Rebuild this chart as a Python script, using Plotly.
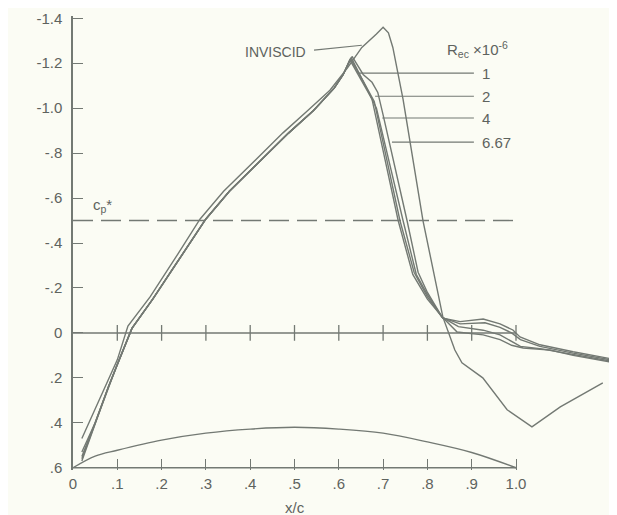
import plotly.graph_objects as go

# ---------------- data ----------------
x_ticks = [0, 0.1, 0.2, 0.3, 0.4, 0.5, 0.6, 0.7, 0.8, 0.9, 1.0]
x_ticktext = ["0", ".1", ".2", ".3", ".4", ".5", ".6", ".7", ".8", ".9", "1.0"]
y_ticks = [-1.4, -1.2, -1.0, -0.8, -0.6, -0.4, -0.2, 0, 0.2, 0.4, 0.6]
y_ticktext = ["-1.4", "-1.2", "-1.0", "-.8", "-.6", "-.4", "-.2", "0", ".2", ".4", ".6"]

cp_star = -0.50

inviscid_x = [0.02, 0.05, 0.08, 0.10, 0.124, 0.174, 0.23, 0.287, 0.34, 0.40, 0.474, 0.53,
              0.58, 0.62, 0.652, 0.685, 0.70, 0.712, 0.722, 0.745, 0.79, 0.835, 0.862,
              0.878, 0.925, 0.98, 1.036, 1.10, 1.196]
inviscid_cp = [0.47, 0.34, 0.21, 0.12, -0.03, -0.16, -0.33, -0.507, -0.63, -0.745, -0.89, -0.99,
               -1.08, -1.18, -1.27, -1.33, -1.36, -1.335, -1.27, -1.04, -0.50, -0.07, 0.076,
               0.133, 0.20, 0.342, 0.418, 0.329, 0.222]

rise_x = [0.02, 0.05, 0.08, 0.10, 0.133, 0.18, 0.23, 0.30, 0.353, 0.413, 0.487, 0.543, 0.59, 0.61]
rise_cp = [0.55, 0.40, 0.24, 0.14, -0.02, -0.15, -0.30, -0.507, -0.63, -0.745, -0.89, -0.99, -1.09, -1.15]

re1_x = rise_x + [0.63, 0.655, 0.675, 0.688, 0.70, 0.754, 0.779, 0.80, 0.835,
                  0.874, 0.926, 0.964, 0.993, 1.009, 1.054, 1.129, 1.228]
re1_cp = [0.53] + rise_cp[1:] + [-1.23, -1.15, -1.115, -1.07, -0.97, -0.50, -0.27, -0.18, -0.065,
                                 -0.05, -0.062, -0.04, -0.013, 0.018, 0.053, 0.084, 0.12]

re2_x = rise_x + [0.628, 0.66, 0.685, 0.745, 0.775, 0.80, 0.834,
                  0.874, 0.93, 0.964, 0.99, 1.01, 1.054, 1.129, 1.228]
re2_cp = [0.55] + rise_cp[1:] + [-1.225, -1.10, -1.0, -0.50, -0.26, -0.17, -0.068,
                                 -0.04, -0.045, -0.025, 0.0, 0.03, 0.06, 0.09, 0.125]

re4_x = rise_x + [0.626, 0.655, 0.68, 0.738, 0.77, 0.80, 0.833,
                  0.87, 0.926, 0.964, 0.99, 1.01, 1.054, 1.129, 1.228]
re4_cp = [0.56] + rise_cp[1:] + [-1.22, -1.12, -1.03, -0.50, -0.27, -0.16, -0.07,
                                 -0.028, -0.012, 0.009, 0.04, 0.06, 0.07, 0.095, 0.13]

re667_x = rise_x + [0.625, 0.652, 0.675, 0.734, 0.767, 0.80, 0.833,
                    0.867, 0.926, 0.964, 0.99, 1.016, 1.077, 1.129, 1.228]
re667_cp = [0.57] + rise_cp[1:] + [-1.215, -1.12, -1.04, -0.50, -0.26, -0.15, -0.072,
                                   -0.004, 0.009, 0.03, 0.055, 0.067, 0.076, 0.10, 0.135]

re_labels = ["1", "2", "4", "6.67"]
re_leader_cp = [-1.156, -1.053, -0.956, -0.849]
re_leader_x0 = [0.641, 0.682, 0.698, 0.72]

airfoil_x = [0, 0.05, 0.1, 0.2, 0.3, 0.4, 0.5, 0.6, 0.7, 0.8, 0.9, 1.0]
airfoil_y = [0.6, 0.548, 0.522, 0.477, 0.446, 0.428, 0.42, 0.428, 0.446, 0.485, 0.532, 0.6]

# ---------------- styling ----------------
LINE = "#737973"
TEXT = "#5e635e"
BG = "#fbfcf4"
FONT = "Liberation Sans"
LW = 1.4

fig = go.Figure()

for xs, ys in [(re1_x, re1_cp), (re2_x, re2_cp), (re4_x, re4_cp), (re667_x, re667_cp),
               (inviscid_x, inviscid_cp)]:
    fig.add_trace(go.Scatter(x=xs, y=ys, mode="lines",
                             line=dict(color=LINE, width=LW), showlegend=False,
                             hoverinfo="skip"))

fig.add_trace(go.Scatter(x=airfoil_x, y=airfoil_y, mode="lines",
                         line=dict(color=LINE, width=LW, shape="spline"),
                         showlegend=False, hoverinfo="skip"))

shapes = []
# bottom axis line (0..1.0)
shapes.append(dict(type="line", xref="x", yref="y", x0=0, x1=1.0, y0=0.6, y1=0.6,
                   line=dict(color=LINE, width=1.5)))
# zero line
shapes.append(dict(type="line", xref="x", yref="y", x0=0, x1=1.0, y0=0, y1=0,
                   line=dict(color=LINE, width=1.5)))
for xv in x_ticks[1:]:
    shapes.append(dict(type="line", xref="x", yref="y", x0=xv, x1=xv, y0=-0.035, y1=0.035,
                       line=dict(color=LINE, width=1.3)))
# cp* dashed line
shapes.append(dict(type="line", xref="x", yref="y", x0=0, x1=1.01, y0=cp_star, y1=cp_star,
                   line=dict(color=LINE, width=1.4, dash="20px,8px")))
# Reynolds number leader lines
for x0, cpv in zip(re_leader_x0, re_leader_cp):
    shapes.append(dict(type="line", xref="x", yref="y", x0=x0, x1=0.905, y0=cpv, y1=cpv,
                       line=dict(color=LINE, width=1.1)))
# INVISCID leader line
shapes.append(dict(type="line", xref="x", yref="y", x0=0.544, x1=0.652, y0=-1.258, y1=-1.28,
                   line=dict(color=LINE, width=1.1)))

annotations = []
for lab, cpv in zip(re_labels, re_leader_cp):
    annotations.append(dict(x=0.918, y=cpv, xref="x", yref="y", text=lab, showarrow=False,
                            xanchor="left", yanchor="middle",
                            font=dict(family=FONT, size=15, color=TEXT)))
annotations.append(dict(x=0.84, y=-1.262, xref="x", yref="y",
                        text="R<sub>ec</sub> ×10<sup>-6</sup>", showarrow=False,
                        xanchor="left", yanchor="middle",
                        font=dict(family=FONT, size=15, color=TEXT)))
annotations.append(dict(x=0.458, y=-1.25, xref="x", yref="y", text="INVISCID",
                        showarrow=False, xanchor="center", yanchor="middle",
                        font=dict(family=FONT, size=14, color=TEXT)))
annotations.append(dict(x=0.04, y=-0.565, xref="x", yref="y", text="c<sub>p</sub>*",
                        showarrow=False, xanchor="left", yanchor="middle",
                        font=dict(family=FONT, size=15, color=TEXT)))
annotations.append(dict(x=-0.118, y=-0.4, xref="x", yref="y", text="c<sub>p</sub>",
                        showarrow=False, xanchor="center", yanchor="middle",
                        font=dict(family=FONT, size=15, color=TEXT)))
annotations.append(dict(x=0.5, y=-0.082, xref="x", yref="paper", text="x/c",
                        showarrow=False, xanchor="center", yanchor="middle",
                        font=dict(family=FONT, size=15, color=TEXT)))

# the page body has an 8px margin, so the figure is 8px smaller than the window
fig.update_layout(
    width=609, height=507,
    margin=dict(l=65, r=0, t=8, b=45),
    paper_bgcolor=BG, plot_bgcolor=BG,
    shapes=shapes, annotations=annotations,
    font=dict(family=FONT, size=15, color=TEXT),
    xaxis=dict(range=[0, 1.228], tickvals=x_ticks, ticktext=x_ticktext,
               showgrid=False, zeroline=False, showline=False,
               ticks="inside", ticklen=11, tickwidth=1.3, tickcolor=LINE,
               ticklabelstandoff=3, tickfont=dict(family=FONT, size=15, color=TEXT)),
    yaxis=dict(range=[0.61, -1.41], tickvals=y_ticks, ticktext=y_ticktext,
               showgrid=False, zeroline=False, showline=True, linecolor=LINE, linewidth=1.5,
               ticks="inside", ticklen=10, tickwidth=1.3, tickcolor=LINE,
               ticklabelstandoff=6, tickfont=dict(family=FONT, size=15, color=TEXT)),
)

fig.write_html("out.html", config={"displayModeBar": False})
